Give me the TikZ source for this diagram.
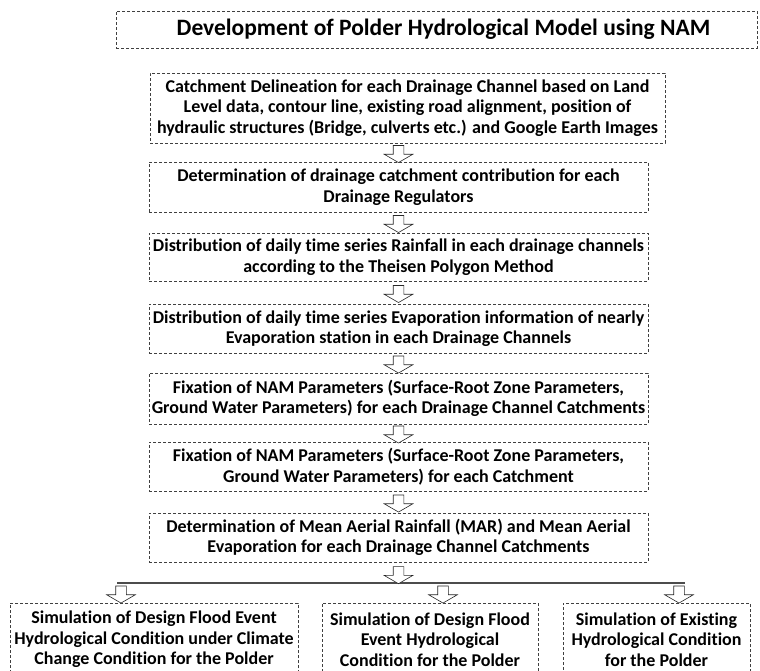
\documentclass[tikz,border=0pt]{standalone}
\usepackage{fontspec}
\setmainfont{Carlito}[Ligatures=NoCommon]
\usetikzlibrary{shapes.arrows,positioning}
\tikzset{
  stepbox/.style={draw=black!75,densely dashed,line width=0.6pt,align=center,
    inner sep=2pt,font=\fontsize{18}{20.5}\selectfont\bfseries},
  titlebox/.style={stepbox,font=\fontsize{23.5}{26}\selectfont\bfseries},
  downarrow/.style={single arrow,draw=black!85,fill=white,line width=0.6pt,
    shape border rotate=270,minimum height=17pt,minimum width=28pt,
    single arrow head extend=9pt,single arrow tip angle=120,inner sep=5pt},
  splitline/.style={draw=black!70,line width=1.1pt},
}

\begin{document}
\begin{tikzpicture}[x=1pt,y=-1pt]
\useasboundingbox (0,0) rectangle (760,670);

% main column
\node[titlebox,minimum width=641pt,minimum height=37pt] (title) at (436.5,29.5)
  {\hspace*{14pt}Development of Polder Hydrological Model using NAM};
\node[stepbox,minimum width=515pt,minimum height=70pt] (b1) at (407.5,108)
  {Catchment Delineation for each Drainage Channel based on Land\\
   Level data, contour line, existing road alignment, position of\\
   hydraulic structures (Bridge, culverts etc.) and Google Earth Images};
\node[stepbox,minimum width=499pt,minimum height=50pt] (b2) at (398.5,187)
  {Determination of drainage catchment contribution for each\\
   Drainage Regulators};
\node[stepbox,minimum width=499pt,minimum height=48pt] (b3) at (398.5,257)
  {Distribution of daily time series Rainfall in each drainage channels\\
   according to the Theisen Polygon Method};
\node[stepbox,minimum width=499pt,minimum height=49pt] (b4) at (398.5,328.5)
  {Distribution of daily time series Evaporation information of nearly\\
   Evaporation station in each Drainage Channels};
\node[stepbox,minimum width=499pt,minimum height=51pt] (b5) at (398.5,398.5)
  {Fixation of NAM Parameters (Surface-Root Zone Parameters,\\
   Ground Water Parameters) for each Drainage Channel Catchments};
\node[stepbox,minimum width=499pt,minimum height=49pt] (b6) at (398.5,466.5)
  {Fixation of NAM Parameters (Surface-Root Zone Parameters,\\
   Ground Water Parameters) for each Catchment};
\node[stepbox,minimum width=499pt,minimum height=49pt] (b7) at (398.5,537.5)
  {Determination of Mean Aerial Rainfall (MAR) and Mean Aerial\\
   Evaporation for each Drainage Channel Catchments};

% simulation boxes
\node[stepbox,anchor=north,minimum width=288pt,minimum height=72pt] (s1) at (154,603)
  {Simulation of Design Flood Event\\
   Hydrological Condition under Climate\\
   Change Condition for the Polder};
\node[stepbox,anchor=north,minimum width=216pt,minimum height=72pt] (s2) at (430,603)
  {Simulation of Design Flood\\
   Event Hydrological\\
   Condition for the Polder};
\node[stepbox,anchor=north,minimum width=187pt,minimum height=72pt] (s3) at (656.5,603)
  {Simulation of Existing\\
   Hydrological Condition\\
   for the Polder};

% arrows down the column
\foreach \a/\b in {b1/b2,b2/b3,b3/b4,b4/b5,b5/b6,b6/b7}
  \path (\a.south -| \b.north) -- node[downarrow] {} (\b.north);

% split to the three simulations
\coordinate (jc) at (398.5,583);
\coordinate (j1) at (121,583);
\coordinate (j2) at (443,583);
\coordinate (j3) at (679,583);
\draw[splitline] ([xshift=-4pt]j1) -- ([xshift=6pt]j3);
\path (b7.south) -- node[downarrow] {} ([yshift=-2pt]jc);
\foreach \j/\s in {j1/s1,j2/s2,j3/s3}
  \path (\j) -- node[downarrow] {} (\j |- \s.north);

\end{tikzpicture}
\end{document}
